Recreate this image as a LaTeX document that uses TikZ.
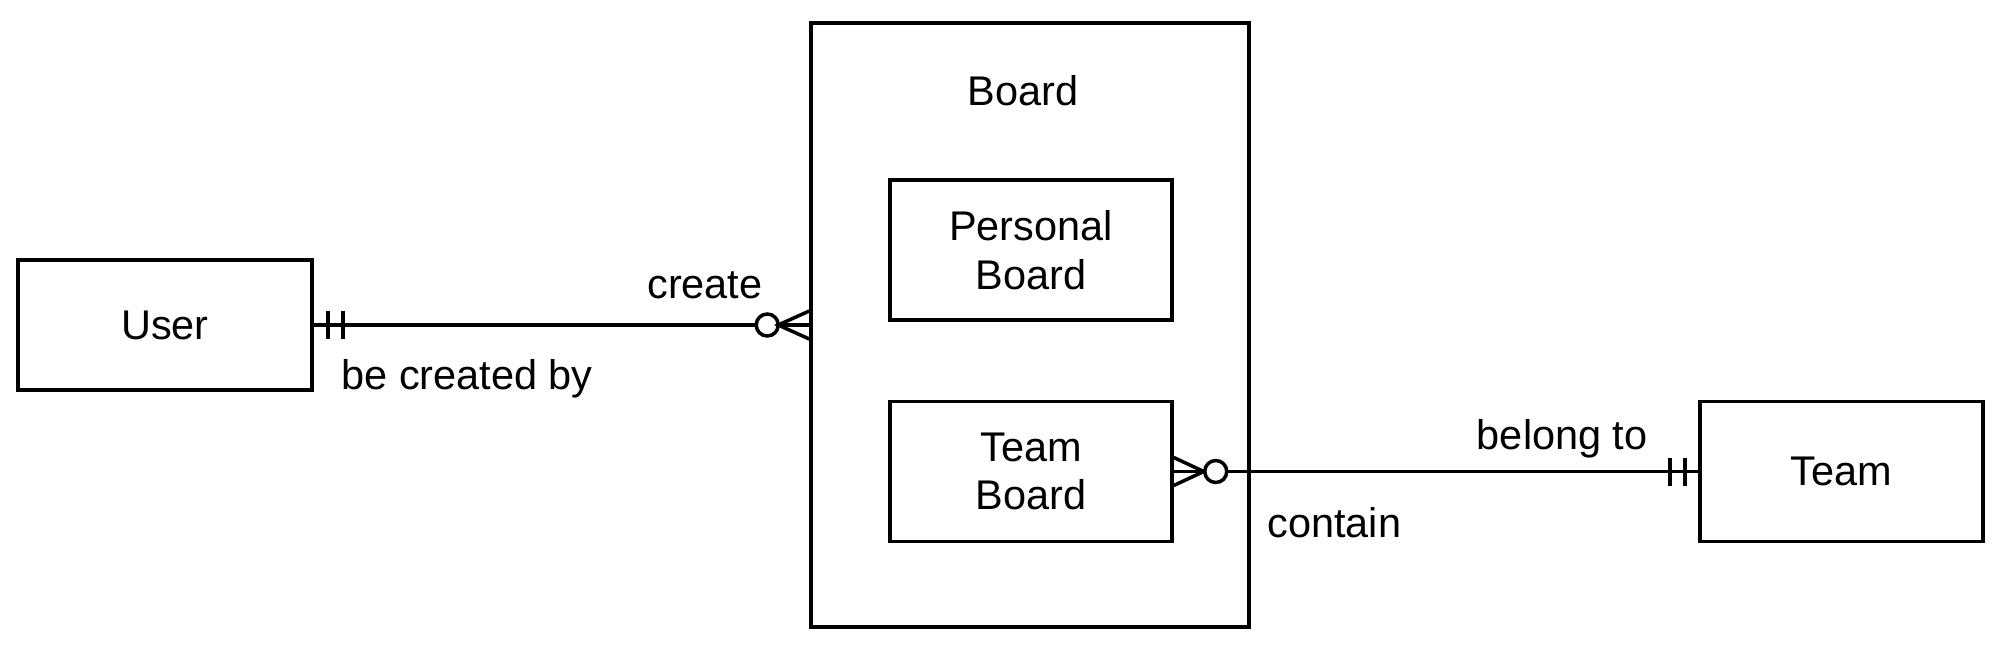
\documentclass[tikz,border=0pt]{standalone}
\usepackage{fontspec}
\setmainfont{Liberation Sans}
\usetikzlibrary{positioning}
\usetikzlibrary{decorations.markings}

\tikzset{
  entity/.style={draw, line width=1pt, minimum width=2.82cm, minimum height=1.40cm, align=center, inner sep=0pt},
  lbl/.style={inner sep=0pt},
  rel/.style={line width=1pt},
  one start/.style={postaction={decorate, decoration={markings,
    mark=at position 0.14cm with {\draw[line width=1pt] (0,-0.14)--(0,0.14);},
    mark=at position 0.29cm with {\draw[line width=1pt] (0,-0.14)--(0,0.14);}}}},
  one end/.style={postaction={decorate, decoration={markings,
    mark=at position -0.28cm with {\draw[line width=1pt] (0,-0.14)--(0,0.14);},
    mark=at position -0.13cm with {\draw[line width=1pt] (0,-0.14)--(0,0.14);}}}},
  many start/.style={postaction={decorate, decoration={markings,
    mark=at position 0.30cm with {\draw[line width=1pt] (-0.30,0.14)--(0,0)--(-0.30,-0.14);},
    mark=at position 0.42cm with {\draw[line width=1pt, fill=white] (0,0) circle (0.11cm);}}}},
  many end/.style={postaction={decorate, decoration={markings,
    mark=at position -0.42cm with {\draw[line width=1pt, fill=white] (0,0) circle (0.11cm);},
    mark=at position -0.31cm with {\draw[line width=1pt] (0.31,0.14)--(0,0)--(0.31,-0.14);}}}}
}

\begin{document}
\begin{tikzpicture}[font=\fontsize{11.8}{13.8}\selectfont]
\useasboundingbox (0,0) rectangle (19.99,6.46);

% entities
\node[entity, minimum width=2.94cm, minimum height=1.30cm] (user) at (1.65,3.21) {User};
\node[draw, line width=1pt, minimum width=4.38cm, minimum height=6.04cm] (board) at (10.30,3.21) {};
\node[lbl, below=0.54cm of board.north, xshift=-0.07cm] (boardlbl) {Board};
\node[entity] (pboard) at (10.31,3.96) {Personal\\Board};
\node[entity] (tboard) at (10.31,1.745) {Team\\Board};
\node[entity, minimum width=2.83cm] (team) at (18.415,1.745) {Team};

% relations
\draw[rel, one start, many end] (user.east) -- (board.west);
\node[lbl, above left=0.25cm and 0.46cm of board.west] (create) {create};
\node[lbl, below right=0.34cm and 0.27cm of user.east] (createdby) {be created by};

\draw[rel, many start, one end] (tboard.east) -- (team.west);
\node[lbl, above left=0.13cm and 0.50cm of team.west] (belongto) {belong to};
\node[lbl, below right=0.35cm and 0.93cm of tboard.east] (contain) {contain};

\end{tikzpicture}
\end{document}
